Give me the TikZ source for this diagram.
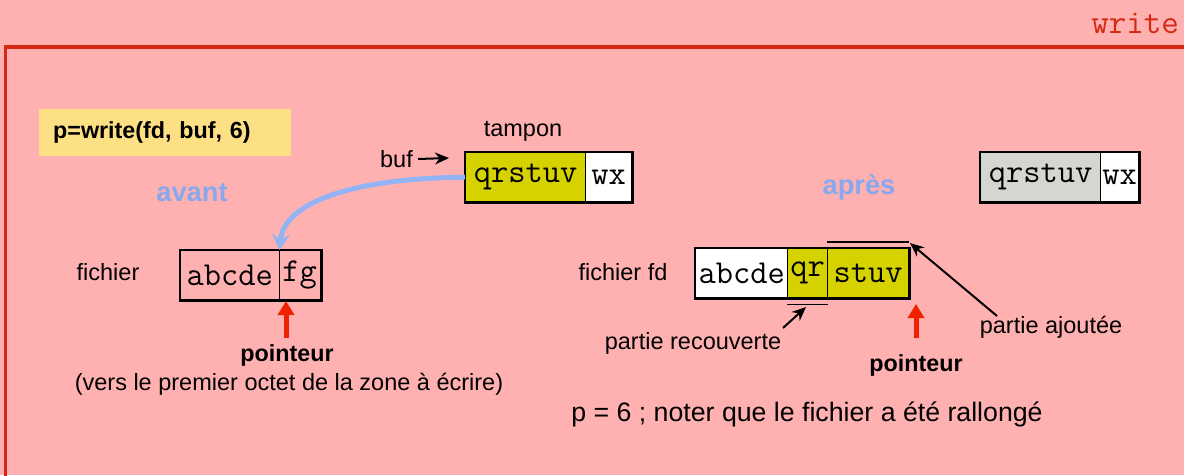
\documentclass[tikz,border=0pt]{standalone}
\usepackage{fontspec}
\setmainfont{Liberation Sans}
\usetikzlibrary{arrows.meta}
\definecolor{bgpink}{HTML}{FFB0B0}
\definecolor{framered}{HTML}{D42A14}
\definecolor{hiyellow}{HTML}{FEE084}
\definecolor{olive}{HTML}{D6D200}
\definecolor{lightgray}{HTML}{D5D6CF}
\definecolor{softblue}{HTML}{88A8EE}
\definecolor{arrowblue}{HTML}{92B4F4}
\definecolor{ptrred}{HTML}{EE2200}
\tikzset{
  txt/.style={inner sep=0pt, font=\fontsize{23.5}{27}\selectfont},
  boldtxt/.style={inner sep=0pt, font=\bfseries\fontsize{23.3}{27}\selectfont},
  title/.style={inner sep=0pt, text=softblue, font=\bfseries\fontsize{27.3}{31}\selectfont},
  cell/.style={draw=black, line width=1.4pt, inner sep=0pt, anchor=north west,
    minimum height=49pt, font=\ttfamily\fontsize{33.5}{34}\selectfont},
  outline/.style={draw=black, line width=2.4pt},
  ptr/.style={draw=ptrred, line width=5pt, -{Triangle[length=14pt,width=16pt]}},
  thinarrow/.style={draw=black, line width=2pt, -{Stealth[length=14pt,width=12pt]}},
  markline/.style={draw=black, line width=1.3pt},
}
\begin{document}
\begin{tikzpicture}[x=1pt,y=-1pt]
\useasboundingbox (0,0) rectangle (1184,475);
\fill[bgpink] (0,0) rectangle (1184,475);
\draw[framered, line width=3.5pt] (5.5,478) -- (5.5,47) -- (1188,47);
\node[anchor=base east, inner sep=0pt, text=framered, font=\ttfamily\fontsize{34}{36}\selectfont] (ttl) at (1179,33) {write};

% call box
\node[fill=hiyellow, anchor=west, text width=224pt, align=left, inner xsep=14pt,
  minimum height=47pt, inner ysep=0pt,
  font=\bfseries\fontsize{23.3}{27}\selectfont] (call) at (39,132.5) {p=write(fd, buf, 6)};

\node[title] (avant) at (192,193) {avant};
\node[title] (apres) at (859,187) {après};

% buffer
\node[txt] (tampon) at (523,131) {tampon};
\node[cell, fill=olive, minimum width=120pt] (bq) at (465,152) {qrstuv};
\node[cell, fill=white, minimum width=46pt] (bw) at (585,152) {wx};
\draw[outline] (bq.north west) rectangle (bw.south east);
\node[txt, anchor=east] (buf) at (413,159) {buf};
\coordinate (bufend) at (449,158);
\draw[thinarrow] (buf.east) ++(5pt,0) -- (bufend);

% buffer after
\node[cell, fill=lightgray, minimum width=120pt] (gq) at (980,152) {qrstuv};
\node[cell, fill=white, minimum width=38pt] (gw) at (1100,152) {wx};
\draw[outline] (gq.north west) rectangle (gw.south east);

% file before
\node[txt] (fich) at (108,272) {fichier};
\node[cell, draw=none, minimum width=98pt] (fa) at (180,250) {abcde};
\node[cell, draw=none, minimum width=42pt] (fb) at (278,250) {fg};
\draw[black, line width=1.3pt] (fa.north east) -- (fa.south east);
\draw[outline] (fa.north west) rectangle (fb.south east);

\draw[arrowblue, line width=5pt, -{Stealth[length=16pt,width=18pt,inset=6pt]}]
  (bq.west) .. controls (360,178) and (284,200) .. (fa.north east);

\coordinate (ptrAtail) at (286,338);
\coordinate (ptrAtip) at (286,301);
\draw[ptr] (ptrAtail) -- (ptrAtip);
\node[boldtxt] (pA) at (287,355) {pointeur};
\node[txt] (vers) at (289,384) {(vers le premier octet de la zone à écrire)};

% file after
\node[txt] (fichfd) at (623,272) {fichier fd};
\node[cell, fill=white, minimum width=92pt] (ra) at (695,248) {abcde};
\node[cell, fill=olive, minimum width=40pt] (rq) at (787,248) {qr};
\node[cell, fill=olive, minimum width=81pt] (rs) at (827,248) {stuv};
\draw[outline] (ra.north west) rectangle (rs.south east);
\draw[markline] ([yshift=6pt]rs.north west) -- ([yshift=6pt]rs.north east);
\draw[markline] ([yshift=-6pt]rq.south west) -- ([yshift=-6pt]rq.south east);

\node[txt] (recouv) at (693,343) {partie recouverte};
\node[txt] (ajout) at (1051,327) {partie ajoutée};
\coordinate (recA) at (783,328);
\coordinate (recB) at (806,307);
\draw[thinarrow] (recA) -- (recB);
\coordinate (ajA) at (997,316);
\coordinate (ajB) at (910,243);
\draw[thinarrow] (ajA) -- (ajB);

\coordinate (ptrBtail) at (916,338);
\coordinate (ptrBtip) at (916,304);
\draw[ptr] (ptrBtail) -- (ptrBtip);
\node[boldtxt] (pB) at (916,365) {pointeur};

\node[inner sep=0pt, font=\fontsize{26.7}{30}\selectfont] (note) at (807,414) {p = 6 ; noter que le fichier a été rallongé};
\end{tikzpicture}
\end{document}
